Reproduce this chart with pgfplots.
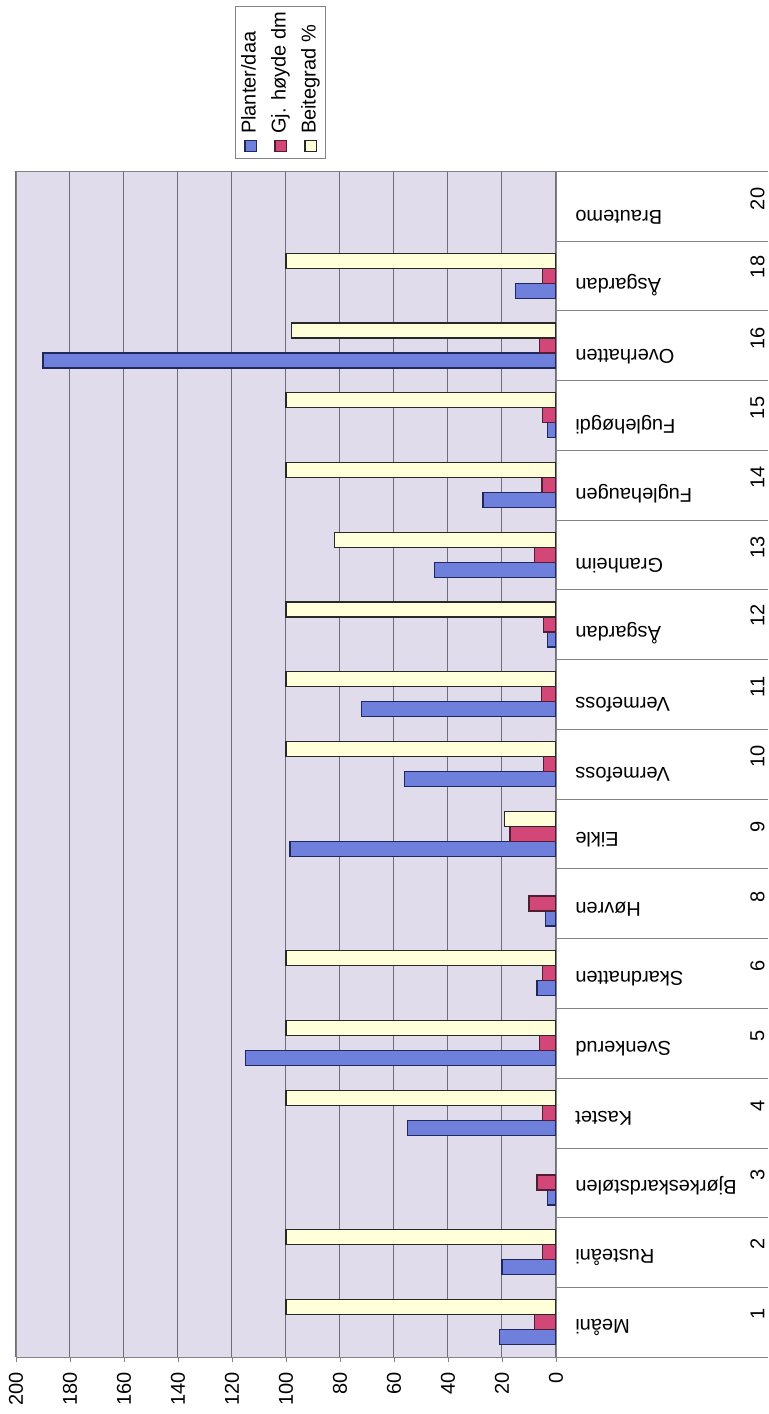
\documentclass[border=0pt]{standalone}
\usepackage{fontspec}
\setmainfont{Liberation Sans}
\usepackage{graphicx}
\usepackage{pgfplots}
\pgfplotsset{compat=1.18}
\definecolor{bgl}{RGB}{225,220,235}
\definecolor{cblue}{RGB}{110,128,220}
\definecolor{cblueb}{RGB}{30,40,95}
\definecolor{cpink}{RGB}{210,70,120}
\definecolor{cpinkb}{RGB}{80,30,50}
\definecolor{ccream}{RGB}{255,255,218}
\definecolor{ccreamb}{RGB}{40,40,40}
\definecolor{gridc}{RGB}{110,110,120}
\definecolor{framec}{RGB}{130,130,135}
\newcommand{\lbl}[2]{\makebox[15pt]{\rotatebox{-90}{#1}}\makebox[83.5pt][r]{#2}\rule{9.5pt}{0pt}}
\newcommand{\sq}[2]{{\setlength{\fboxsep}{0pt}\setlength{\fboxrule}{0.6pt}\fcolorbox{#2}{#1}{\rule{5pt}{0pt}\rule{0pt}{5pt}}}}
\begin{document}
\begin{tikzpicture}
\path[use as bounding box] (0,0) rectangle (384pt,707pt);
\begin{axis}[
  at={(8pt,28.5pt)}, anchor=south west,
  scale only axis, width=270pt, height=593pt,
  x dir=reverse,
  xmin=0, xmax=200, ymin=-0.5, ymax=16.5,
  enlarge x limits=false, enlarge y limits=false,
  axis background/.style={fill=bgl},
  axis line style={framec},
  xmajorgrids, major grid style={gridc, line width=0.5pt},
  xtick={0,20,...,200},
  /pgf/number format/assume math mode=true,
  xticklabel style={rotate=90, anchor=east},
  tick align=outside,
  xtick pos=left, ytick pos=right,
  xtick style={framec, /pgfplots/major tick length=2.5pt},
  ytick={-0.5,0.5,...,16.5},
  yticklabels={},
  ytick style={framec, /pgfplots/major tick length=106pt},
  extra y ticks={0,1,...,16},
  extra y tick labels={{\lbl{1}{Meåni}},{\lbl{2}{Rusteåni}},{\lbl{3}{Bjørkeskardstølen}},{\lbl{4}{Kastet}},{\lbl{5}{Svenkerud}},{\lbl{6}{Skardnatten}},{\lbl{8}{Høvren}},{\lbl{9}{Eikle}},{\lbl{10}{Vermefoss}},{\lbl{11}{Vermefoss}},{\lbl{12}{Åsgardan}},{\lbl{13}{Granheim}},{\lbl{14}{Fuglehaugen}},{\lbl{15}{Fuglehøgdi}},{\lbl{16}{Overhatten}},{\lbl{18}{Åsgardan}},{\lbl{20}{Brautemo}}},
  extra y tick style={tick style={draw=none}, yticklabel style={xshift=-0.15cm, rotate=180, anchor=east, inner sep=0pt}},
  bar width=7.5pt,
]
\addplot[xbar, bar shift=-7.5pt, fill=cblue, draw=cblueb, line width=0.6pt]
  coordinates {(21,0) (20,1) (3,2) (55,3) (115,4) (7,5) (4,6) (98.5,7) (56,8) (72,9) (3,10) (45,11) (27,12) (3,13) (190,14) (15,15)};
\addplot[xbar, bar shift=0pt, fill=cpink, draw=cpinkb, line width=0.6pt]
  coordinates {(8,0) (5,1) (7,2) (5,3) (6,4) (5,5) (10,6) (17,7) (4.5,8) (5.5,9) (4.6,10) (8,11) (5.2,12) (5,13) (6,14) (5,15)};
\addplot[xbar, bar shift=7.5pt, fill=ccream, draw=ccreamb, line width=0.6pt]
  coordinates {(100,0) (100,1) (100,3) (100,4) (100,5) (19,7) (100,8) (100,9) (100,10) (82,11) (100,12) (100,13) (98,14) (100,15)};
\end{axis}
\node[rotate=90, draw=framec, fill=white, inner sep=3pt, align=left, font=\fontsize{10}{15}\selectfont]
  at (140.25pt,666pt) {\sq{cblue}{cblueb} Planter/daa\\ \sq{cpink}{cpinkb} Gj. høyde dm\\ \sq{ccream}{ccreamb} Beitegrad \%};
\end{tikzpicture}
\end{document}
